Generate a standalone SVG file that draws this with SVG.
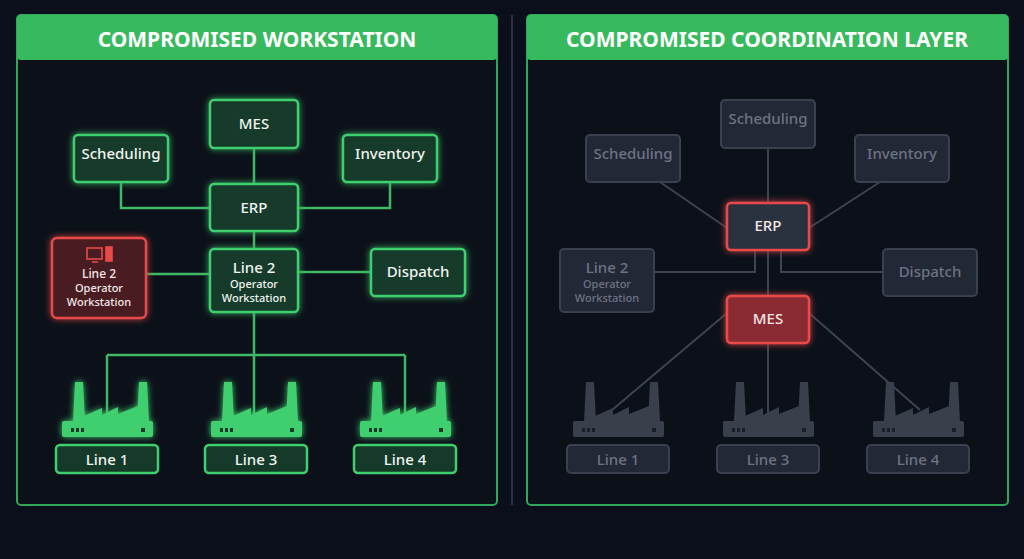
<svg xmlns="http://www.w3.org/2000/svg" width="1024" height="559" viewBox="0 0 1024 559">
<defs>
<filter id="gg" x="-30%" y="-30%" width="160%" height="160%"><feGaussianBlur stdDeviation="3" result="b"/><feMerge><feMergeNode in="b"/><feMergeNode in="SourceGraphic"/></feMerge></filter>
<g id="fac">
<rect x="0" y="39" width="91" height="16" rx="2"/>
<path d="M11,40 L13,0 L21,0 L23,40 Z M75,40 L77,0 L85,0 L87,40 Z M22,40 L22,34 L40,26 L40,33 L56,25 L56,32 L76,24 L76,40 Z"/>
</g>
<g id="dots"><rect x="9" y="46" width="3" height="4"/><rect x="14" y="46" width="3" height="4"/><rect x="19" y="46" width="3" height="4"/><rect x="79" y="46" width="4" height="4"/></g>
</defs>
<style>
text{font-family:"Noto Sans","Open Sans",sans-serif;text-anchor:middle;font-weight:500}
.g rect.b{fill:#163a2a;stroke:#3fcf6e;stroke-width:2.5}
.g text{fill:#f0f4f0;font-size:15px}
.r rect.b{fill:#4a1a22;stroke:#e84a4a;stroke-width:2.5}
.r text{fill:#f4e8e8}
.x rect.b{fill:#232836;stroke:#3a4050;stroke-width:2}
.x text{fill:#6d7384;font-size:15px}
.s{font-size:11px !important}
.cg{stroke:#3fb866;stroke-width:2.5;fill:none}
.cx{stroke:#3d4352;stroke-width:2;fill:none}
.ttl{fill:#fff;font-size:21px;font-weight:bold}
</style>
<rect width="1024" height="559" fill="#0b0f1b"/>
<line x1="512" y1="15" x2="512" y2="505" stroke="#2a3040" stroke-width="2"/>
<rect x="17" y="15" width="480" height="490" rx="4" fill="#0c1119" stroke="#2fa85a" stroke-width="2"/>
<rect x="17" y="15" width="480" height="45" rx="4" fill="#37b95d"/>
<text class="ttl" x="257" y="47">COMPROMISED WORKSTATION</text>
<rect x="527" y="15" width="481" height="490" rx="4" fill="#0c1119" stroke="#2fa85a" stroke-width="2"/>
<rect x="527" y="15" width="481" height="45" rx="4" fill="#37b95d"/>
<text class="ttl" x="767" y="47">COMPROMISED COORDINATION LAYER</text>
<g id="connectors">
<path class="cg" d="M254,148V184 M121,182V208H210 M390,182V208H298 M254,231V249 M146,274H210 M298,272H371 M254,312V420 M107,355H405 M107,355V420 M405,355V420"/>
<path class="cx" d="M660,182L727,228 M880,182L809,228 M768,148V203 M654,272H755V250 M883,272H781V250 M768,250V296 M727,313L612,410 M768,343V413 M809,313L920,410"/>
</g>
<g id="l-mes" class="g"><rect class="b" x="210" y="100" width="88" height="48" rx="4" filter="url(#gg)"/><text x="254" y="129">MES</text></g>
<g id="l-sched" class="g"><rect class="b" x="74" y="135" width="94" height="47" rx="4" filter="url(#gg)"/><text x="121" y="159">Scheduling</text></g>
<g id="l-inv" class="g"><rect class="b" x="343" y="135" width="94" height="47" rx="4" filter="url(#gg)"/><text x="390" y="159">Inventory</text></g>
<g id="l-erp" class="g"><rect class="b" x="210" y="184" width="88" height="47" rx="4" filter="url(#gg)"/><text x="254" y="213">ERP</text></g>
<g id="l-l2" class="g"><rect class="b" x="210" y="249" width="88" height="63" rx="4" filter="url(#gg)"/><text x="254" y="273">Line 2</text><text class="s" x="254" y="288">Operator</text><text class="s" x="254" y="302">Workstation</text></g>
<g id="l-disp" class="g"><rect class="b" x="371" y="249" width="94" height="47" rx="4" filter="url(#gg)"/><text x="418" y="277">Dispatch</text></g>
<g id="l-red" class="r"><rect class="b" x="52" y="238" width="94" height="80" rx="5" filter="url(#gg)"/>
<g fill="none" stroke="#e84a4a" stroke-width="1.6"><rect x="87" y="248" width="15" height="11"/><path d="M92,262H98"/><rect x="106" y="247" width="6" height="14" fill="#e84a4a"/></g>
<text x="99" y="278" style="font-size:12px">Line 2</text><text class="s" x="99" y="292">Operator</text><text class="s" x="99" y="306">Workstation</text></g>
<g id="l-f1" filter="url(#gg)"><use href="#fac" x="62" y="382" fill="#3fcf6e"/><use href="#dots" x="62" y="382" fill="#163a2a"/></g>
<g id="l-f3" filter="url(#gg)"><use href="#fac" x="211" y="382" fill="#3fcf6e"/><use href="#dots" x="211" y="382" fill="#163a2a"/></g>
<g id="l-f4" filter="url(#gg)"><use href="#fac" x="360" y="382" fill="#3fcf6e"/><use href="#dots" x="360" y="382" fill="#163a2a"/></g>
<g id="l-line1" class="g"><rect class="b" x="56" y="445" width="102" height="28" rx="4"/><text x="107" y="465">Line 1</text></g>
<g id="l-line3" class="g"><rect class="b" x="205" y="445" width="102" height="28" rx="4"/><text x="256" y="465">Line 3</text></g>
<g id="l-line4" class="g"><rect class="b" x="354" y="445" width="102" height="28" rx="4"/><text x="405" y="465">Line 4</text></g>
<g id="r-sched2" class="x"><rect class="b" x="721" y="100" width="94" height="48" rx="4"/><text x="768" y="124">Scheduling</text></g>
<g id="r-sched" class="x"><rect class="b" x="586" y="135" width="94" height="47" rx="4"/><text x="633" y="159">Scheduling</text></g>
<g id="r-inv" class="x"><rect class="b" x="855" y="135" width="94" height="47" rx="4"/><text x="902" y="159">Inventory</text></g>
<g id="r-erp" class="r"><rect class="b" x="727" y="203" width="82" height="47" rx="4" style="fill:#2c3040" filter="url(#gg)"/><text x="768" y="231" style="font-size:15px">ERP</text></g>
<g id="r-l2" class="x"><rect class="b" x="560" y="249" width="94" height="63" rx="4"/><text x="607" y="273">Line 2</text><text class="s" x="607" y="288">Operator</text><text class="s" x="607" y="302">Workstation</text></g>
<g id="r-disp" class="x"><rect class="b" x="883" y="249" width="94" height="47" rx="4"/><text x="930" y="277">Dispatch</text></g>
<g id="r-mes" class="r"><rect class="b" x="727" y="296" width="82" height="47" rx="4" style="fill:#8a2a30" filter="url(#gg)"/><text x="768" y="324" style="font-size:15px">MES</text></g>
<g id="r-f1"><use href="#fac" x="573" y="382" fill="#3a3f4c"/><use href="#dots" x="573" y="382" fill="#1a1e28"/></g>
<g id="r-f3"><use href="#fac" x="723" y="382" fill="#3a3f4c"/><use href="#dots" x="723" y="382" fill="#1a1e28"/></g>
<g id="r-f4"><use href="#fac" x="873" y="382" fill="#3a3f4c"/><use href="#dots" x="873" y="382" fill="#1a1e28"/></g>
<g id="r-line1" class="x"><rect class="b" x="567" y="445" width="102" height="28" rx="4"/><text x="618" y="465">Line 1</text></g>
<g id="r-line3" class="x"><rect class="b" x="717" y="445" width="102" height="28" rx="4"/><text x="768" y="465">Line 3</text></g>
<g id="r-line4" class="x"><rect class="b" x="867" y="445" width="102" height="28" rx="4"/><text x="918" y="465">Line 4</text></g>
</svg>
